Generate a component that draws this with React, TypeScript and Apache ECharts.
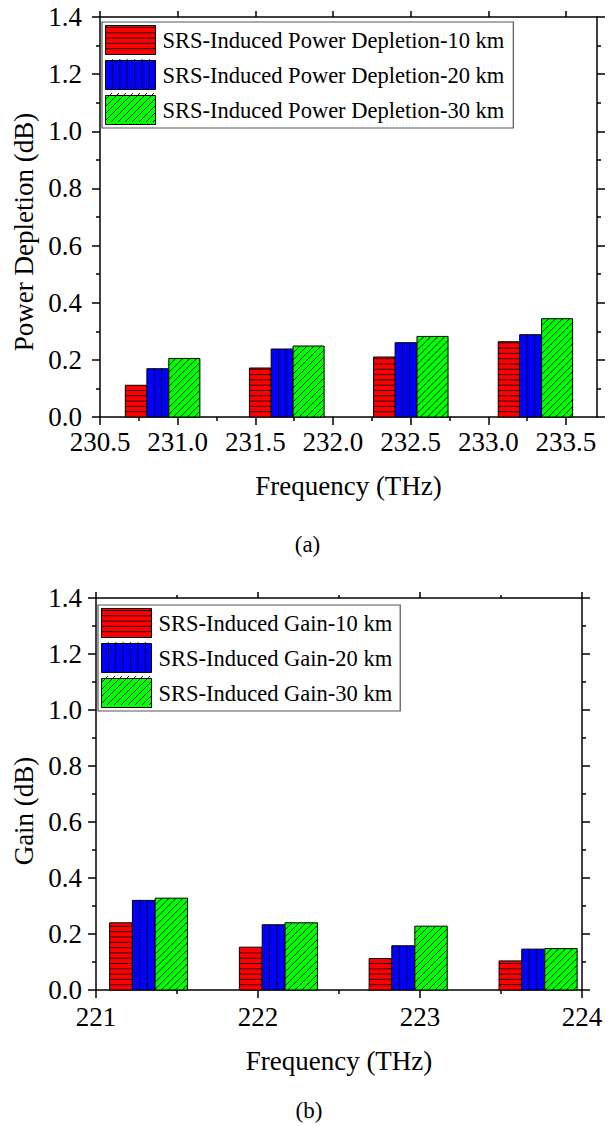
import React, { useEffect, useRef } from "react";
import * as echarts from "echarts";

// ---------- data ----------
// (a) SRS-induced power depletion
const depletionNames = [
  "SRS-Induced Power Depletion-10 km",
  "SRS-Induced Power Depletion-20 km",
  "SRS-Induced Power Depletion-30 km",
];
const depletion10kmX = [230.733, 231.532, 232.331, 233.134];
const depletion20kmX = [230.872, 231.672, 232.47, 233.272];
const depletion30kmX = [231.043, 231.843, 232.641, 233.443];
const depletion10km = [0.111, 0.1715, 0.21, 0.2635];
const depletion20km = [0.169, 0.238, 0.26, 0.288];
const depletion30km = [0.205, 0.2485, 0.282, 0.344];
const depletionTicks = [230.5, 231.0, 231.5, 232.0, 232.5, 233.0, 233.5];
const depletionMinorTicks = [230.75, 231.25, 231.75, 232.25, 232.75, 233.25];

// (b) SRS-induced gain
const gainNames = [
  "SRS-Induced Gain-10 km",
  "SRS-Induced Gain-20 km",
  "SRS-Induced Gain-30 km",
];
const gain10kmX = [221.154, 221.955, 222.756, 223.558];
const gain20kmX = [221.295, 222.096, 222.896, 223.698];
const gain30kmX = [221.465, 222.267, 223.068, 223.87];
const gain10km = [0.24, 0.153, 0.1125, 0.104];
const gain20km = [0.32, 0.233, 0.158, 0.146];
const gain30km = [0.328, 0.24, 0.228, 0.148];

// ---------- styles ----------
const FONT = "Liberation Serif";
const RED = "#ff0000";
const BLUE = "#0000ff";
const GREEN = "#00ff00";
const NARROW = 0.14;
const WIDE = 0.2;

type Kind = "h" | "v" | "d";

function patternLines(kind: Kind, x0: number, y0: number, w: number, h: number, z?: number) {
  const out: any[] = [];
  const style = { stroke: "rgba(0,0,0,0.85)", lineWidth: 1 };
  const mk = (x1: number, y1: number, x2: number, y2: number) => {
    const el: any = { type: "line", shape: { x1, y1, x2, y2 }, style, silent: true };
    if (z !== undefined) el.z = z;
    return el;
  };
  if (kind === "h") {
    const step = 5.3;
    for (let y = y0 + h - step; y > y0 + 1; y -= step) out.push(mk(x0, y, x0 + w, y));
  } else if (kind === "v") {
    const step = 7.4;
    for (let x = x0 + step; x < x0 + w - 1; x += step) out.push(mk(x, y0, x, y0 + h));
  } else {
    const step = 7;
    for (let c = x0 + y0 + step; c < x0 + w + y0 + h; c += step) {
      const lo = Math.max(y0, c - x0 - w);
      const hi = Math.min(y0 + h, c - x0);
      if (hi - lo > 0.5) out.push(mk(c - lo, lo, c - hi, hi));
    }
  }
  return out;
}

function makeRender(kind: Kind, color: string, width: number) {
  return (_params: any, api: any) => {
    const x = api.value(0);
    const v = api.value(1);
    const a = api.coord([x - width / 2, v]);
    const b = api.coord([x + width / 2, 0]);
    const x0 = a[0];
    const y0 = a[1];
    const w = b[0] - a[0];
    const h = b[1] - a[1];
    return {
      type: "group",
      children: [
        { type: "rect", shape: { x: x0, y: y0, width: w, height: h }, style: { fill: color } },
        ...patternLines(kind, x0, y0, w, h),
        {
          type: "rect",
          shape: { x: x0, y: y0, width: w, height: h },
          style: { fill: "none", stroke: "#000", lineWidth: 1 },
        },
      ],
    };
  };
}

function barSeries(
  name: string,
  xs: number[],
  vals: number[],
  kind: Kind,
  color: string,
  width: number,
  xAxisIndex: number,
  yAxisIndex: number
) {
  return {
    type: "custom",
    name,
    xAxisIndex,
    yAxisIndex,
    itemStyle: { color },
    encode: { x: 0, y: 1 },
    data: xs.map((x, i) => [x, vals[i]]),
    renderItem: makeRender(kind, color, width),
  };
}

const axisLineStyle = { color: "#000", width: 1.5 };
const labelStyle = { fontFamily: FONT, fontSize: 27, color: "#000" };

function yAxes(gridIndex: number, labelMargin: number, name: string, namePadRight: number) {
  const common = {
    gridIndex,
    type: "value",
    min: 0,
    max: 1.4,
    interval: 0.2,
    splitLine: { show: false },
    axisLine: { show: true, onZero: false, lineStyle: axisLineStyle },
    axisTick: { show: true, inside: false, length: 8, lineStyle: { width: 1.5, color: "#000" } },
    minorTick: { show: true, splitNumber: 2, length: 4, lineStyle: { width: 1.5, color: "#000" } },
  };
  return [
    {
      ...common,
      position: "left",
      axisLabel: {
        ...labelStyle,
        margin: labelMargin,
        formatter: (v: number) => v.toFixed(1),
      },
      name,
      nameLocation: "middle",
      nameGap: 56,
      nameTextStyle: { fontFamily: FONT, fontSize: 27, color: "#000", padding: [0, namePadRight, 0, 0] },
    },
    { ...common, position: "right", axisLabel: { show: false } },
  ];
}

const App: React.FC = () => {
  const ref = useRef<HTMLDivElement>(null);

  useEffect(() => {
    if (!ref.current) return;
    const chart = echarts.init(ref.current, undefined, { renderer: "svg" });

    const grids = [
      { left: 100, top: 17, width: 497, height: 400 },
      { left: 96, top: 598, width: 486, height: 392 },
    ];

    const xTopCommon = {
      gridIndex: 0,
      type: "value",
      min: 230.5,
      max: 233.7,
      splitLine: { show: false },
    };
    const tickStyle = { width: 1.5, color: "#000" };

    const xAxes: any[] = [
      {
        ...xTopCommon,
        position: "bottom",
        axisLine: { show: true, onZero: false, lineStyle: axisLineStyle },
        axisTick: { show: true, length: 8, lineStyle: tickStyle, customValues: depletionTicks },
        axisLabel: {
          ...labelStyle,
          margin: 11,
          customValues: depletionTicks,
          formatter: (v: number) => v.toFixed(1),
        },
        name: "Frequency (THz)",
        nameLocation: "middle",
        nameGap: 55,
        nameTextStyle: { fontFamily: FONT, fontSize: 27, color: "#000" },
      },
      {
        ...xTopCommon,
        position: "bottom",
        axisLine: { show: false, onZero: false },
        axisTick: { show: true, length: 4, lineStyle: tickStyle, customValues: depletionMinorTicks },
        axisLabel: { show: false },
      },
      {
        ...xTopCommon,
        position: "top",
        axisLine: { show: true, onZero: false, lineStyle: axisLineStyle },
        axisTick: { show: true, length: 6, lineStyle: tickStyle, customValues: depletionTicks },
        axisLabel: { show: false },
      },
      {
        gridIndex: 1,
        type: "value",
        min: 221,
        max: 224,
        interval: 1,
        position: "bottom",
        splitLine: { show: false },
        axisLine: { show: true, onZero: false, lineStyle: axisLineStyle },
        axisTick: { show: true, length: 8, lineStyle: tickStyle },
        minorTick: { show: true, splitNumber: 2, length: 4, lineStyle: tickStyle },
        axisLabel: { ...labelStyle, margin: 13, formatter: (v: number) => String(Math.round(v)) },
        name: "Frequency (THz)",
        nameLocation: "middle",
        nameGap: 57,
        nameTextStyle: { fontFamily: FONT, fontSize: 27, color: "#000" },
      },
      {
        gridIndex: 1,
        type: "value",
        min: 221,
        max: 224,
        interval: 1,
        position: "top",
        splitLine: { show: false },
        axisLine: { show: true, onZero: false, lineStyle: axisLineStyle },
        axisTick: { show: true, length: 6, lineStyle: tickStyle },
        minorTick: { show: true, splitNumber: 2, length: 3, lineStyle: tickStyle },
        axisLabel: { show: false },
      },
    ];

    const yAxisList: any[] = [
      ...yAxes(0, 18, "Power Depletion (dB)", 30),
      ...yAxes(1, 14, "Gain (dB)", 34),
    ];

    const legendCommon = {
      orient: "vertical",
      itemWidth: 50,
      itemHeight: 29,
      itemGap: 5,
      icon: "rect",
      selectedMode: false,
      backgroundColor: "#fff",
      borderColor: "#555",
      borderWidth: 1.2,
      borderRadius: 0,
      textStyle: { fontFamily: FONT, fontSize: 22.5, color: "#000", padding: [0, 0, 0, 2] },
      itemStyle: { borderColor: "#000", borderWidth: 1 },
    };

    const legendTop = { left: 102, top: 22, pad: [3, 9, 3, 3] };
    const legendBot = { left: 98, top: 605, pad: [3, 8, 3, 3] };

    const kinds: Kind[] = ["h", "v", "d"];
    const overlays: any[] = [];
    const addOverlay = (lg: { left: number; top: number; pad: number[] }, w: number) => {
      kinds.forEach((k, i) => {
        const x0 = lg.left + lg.pad[3];
        const y0 = lg.top + lg.pad[0] + i * 34;
        overlays.push(...patternLines(k, x0, y0, w, 29, 50));
      });
    };
    addOverlay(legendTop, 50);
    addOverlay(legendBot, 50);

    const option: any = {
      animation: false,
      backgroundColor: "#fff",
      textStyle: { fontFamily: FONT, color: "#000" },
      grid: grids,
      xAxis: xAxes,
      yAxis: yAxisList,
      legend: [
        { ...legendCommon, left: legendTop.left, top: legendTop.top, padding: legendTop.pad, data: depletionNames },
        { ...legendCommon, left: legendBot.left, top: legendBot.top, padding: legendBot.pad, data: gainNames },
      ],
      series: [
        barSeries(depletionNames[0], depletion10kmX, depletion10km, "h", RED, NARROW, 0, 0),
        barSeries(depletionNames[1], depletion20kmX, depletion20km, "v", BLUE, NARROW, 0, 0),
        barSeries(depletionNames[2], depletion30kmX, depletion30km, "d", GREEN, WIDE, 0, 0),
        barSeries(gainNames[0], gain10kmX, gain10km, "h", RED, NARROW, 3, 2),
        barSeries(gainNames[1], gain20kmX, gain20km, "v", BLUE, NARROW, 3, 2),
        barSeries(gainNames[2], gain30kmX, gain30km, "d", GREEN, WIDE, 3, 2),
      ],
      graphic: [
        ...overlays,
        {
          type: "text",
          x: 307.5,
          y: 544,
          z: 50,
          style: { text: "(a)", fontFamily: FONT, fontSize: 23, fill: "#000", align: "center", verticalAlign: "middle" },
        },
        {
          type: "text",
          x: 309,
          y: 1110,
          z: 50,
          style: { text: "(b)", fontFamily: FONT, fontSize: 23, fill: "#000", align: "center", verticalAlign: "middle" },
        },
      ],
    };

    chart.setOption(option);
    return () => {
      chart.dispose();
    };
  }, []);

  return (
    <div
      ref={ref}
      style={{ position: "absolute", left: 0, top: 0, width: 615, height: 1126, background: "#fff" }}
    />
  );
};

export default App;
